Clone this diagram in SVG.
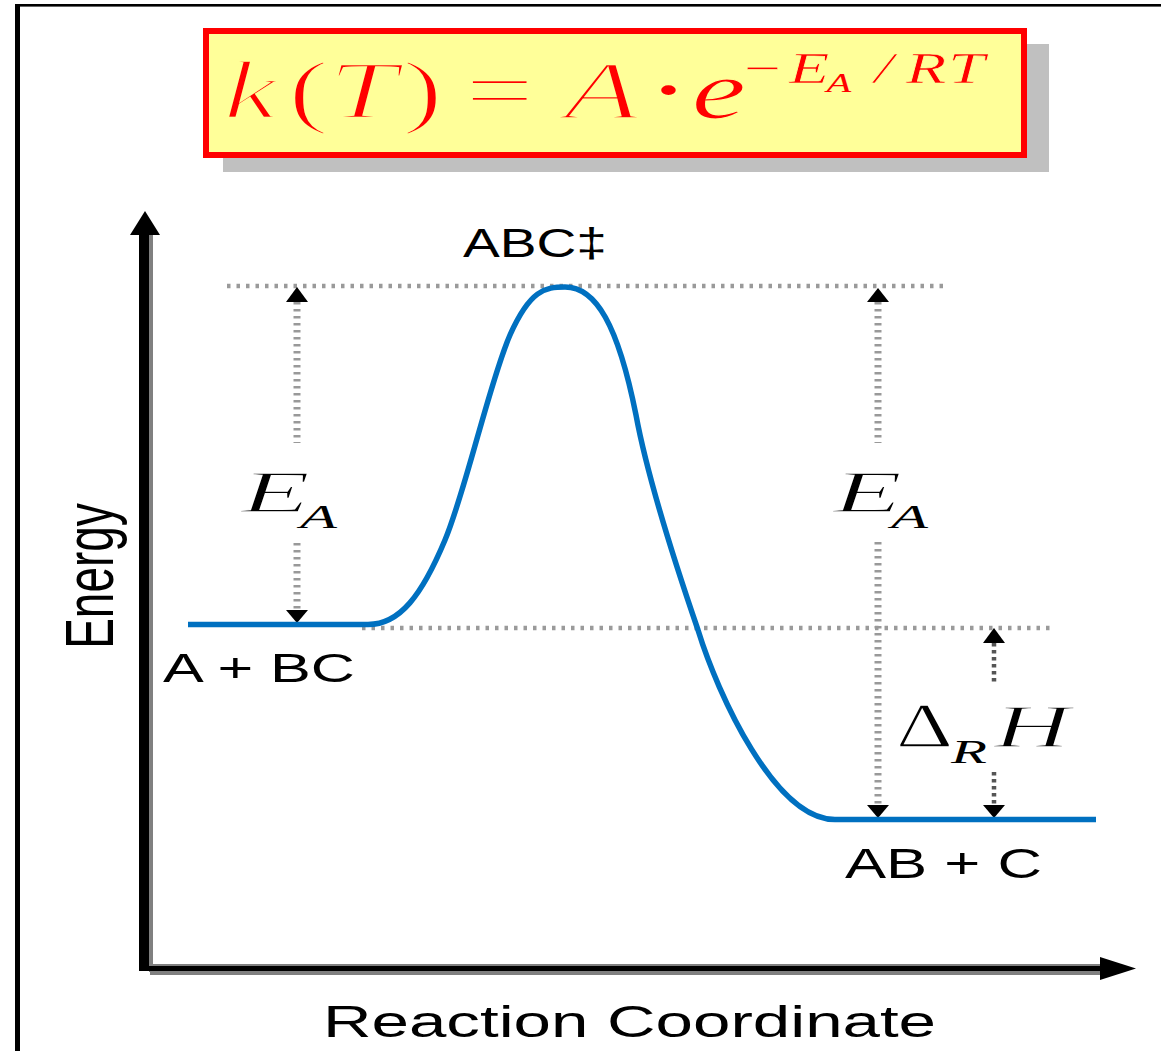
<svg xmlns="http://www.w3.org/2000/svg" width="1161" height="1051" viewBox="0 0 1161 1051">
  <style>
    .sans { font-family: "Liberation Sans", Arial, sans-serif; fill: #000; }
    .math { font-family: "Liberation Serif", "Times New Roman", serif; fill: #000; }
    .it { font-style: italic; }
    .thin { stroke: #fff; stroke-width: 1.3; }
    .red { fill: #ff0000; }
    .big { stroke: #ffff99; stroke-width: 2.4; }
    .mid { stroke: #ffff99; stroke-width: 1.2; }
    .small { stroke: #ffff99; stroke-width: 0.6; }
    .guide { stroke: #9a9a9a; stroke-width: 4.5; stroke-dasharray: 3.5 6; fill: none; }
    .vdot { stroke: #999; stroke-width: 7; stroke-dasharray: 2.5 4.5; fill: none; }
    .hdot { stroke: #555; stroke-width: 4.5; stroke-dasharray: 3.5 3.5; fill: none; }
    .head { fill: #000; }
    .curve { stroke: #0070c0; stroke-width: 5.5; fill: none; stroke-linejoin: round; }
  </style>

  <rect width="1161" height="1051" fill="#fff"/>

  <!-- outer frame -->
  <g id="frame">
    <rect x="15" y="4" width="1146" height="2.6" fill="#000"/>
    <rect x="15" y="4" width="5" height="1047" fill="#000"/>
  </g>

  <!-- formula box -->
  <g id="formula">
    <rect x="223" y="44" width="826" height="128" fill="#c0c0c0"/>
    <rect x="206" y="31" width="818" height="124" fill="#ffff99" stroke="#ff0000" stroke-width="6"/>
    <g transform="scale(1.5,1)" class="math red">
      <text x="149" y="118" font-size="82" class="it big">k</text>
      <text x="192" y="118" font-size="82" class="big">(</text>
      <text x="219" y="118" font-size="82" class="it big">T</text>
      <text x="268" y="118" font-size="82" class="big">)</text>
      <text x="310" y="118" font-size="82" class="big">=</text>
      <text x="376" y="118" font-size="82" class="it big">A</text>
      <text x="432" y="118" font-size="82">·</text>
      <text x="461" y="118" font-size="82" class="it mid">e</text>
      <text x="496" y="83" font-size="44" class="small">−</text>
      <text x="526" y="83" font-size="44" class="it small">E</text>
      <text x="551" y="92" font-size="27" class="it">A</text>
      <text x="583" y="83" font-size="44" class="it small">/</text>
      <text x="604" y="83" font-size="44" class="it small">R</text>
      <text x="632" y="83" font-size="44" class="it small">T</text>
    </g>
  </g>

  <!-- axes -->
  <g id="axes">
    <rect x="149" y="232" width="4" height="740" fill="#808080"/>
    <rect x="150" y="964" width="955" height="11" fill="#808080"/>
    <rect x="139" y="230" width="10" height="741" fill="#000"/>
    <rect x="139" y="966" width="966" height="5" fill="#000"/>
    <polygon points="145,211 160,235 130,235" fill="#000"/>
    <polygon points="1136,968.5 1100,957 1100,980" fill="#000"/>
  </g>

  <!-- guide lines and dimension arrows -->
  <g id="connectors">
    <line class="guide" x1="227" y1="286" x2="943" y2="286"/>
    <line class="guide" x1="362" y1="628" x2="1050" y2="628"/>

    <!-- left E_A -->
    <line class="vdot" x1="297" y1="302" x2="297" y2="443"/>
    <line class="vdot" x1="297" y1="543" x2="297" y2="612"/>
    <polygon class="head" points="297,287 308,302 286,302"/>
    <polygon class="head" points="297,623 308,610 286,610"/>

    <!-- right E_A -->
    <line class="vdot" x1="878" y1="302" x2="878" y2="443"/>
    <line class="vdot" x1="878" y1="542" x2="878" y2="806"/>
    <polygon class="head" points="878,288 889,302 867,302"/>
    <polygon class="head" points="878,818 889,805 867,805"/>

    <!-- Delta_R H -->
    <line class="hdot" x1="994" y1="643" x2="994" y2="685"/>
    <line class="hdot" x1="994" y1="772" x2="994" y2="806"/>
    <polygon class="head" points="994,628 1005,643 983,643"/>
    <polygon class="head" points="994,818 1005,805 983,805"/>
  </g>

  <!-- energy profile -->
  <g id="profile">
    <path class="curve" d="M188,624.5 L368,624.5 C400,624.5 422,595 445,540 C466,490 490,380 510,335 C530,290 545,287 565,287 C596,287 618,325 636,415 C648,480 674,560 698,630 C718,695 775,819.5 835,819.5 L1096,819.5"/>
  </g>

  <!-- labels -->
  <g id="label-ts">
    <text class="sans" x="463" y="257" font-size="40" textLength="144" lengthAdjust="spacingAndGlyphs">ABC‡</text>
  </g>
  <g id="label-reactants">
    <text class="sans" x="163" y="682" font-size="40" textLength="192" lengthAdjust="spacingAndGlyphs">A + BC</text>
  </g>
  <g id="label-products">
    <text class="sans" x="845" y="878" font-size="42" textLength="197" lengthAdjust="spacingAndGlyphs">AB + C</text>
  </g>
  <g id="label-ea-left">
    <text class="math it thin" x="241" y="512" font-size="60" textLength="69" lengthAdjust="spacingAndGlyphs">E</text>
    <text class="math it" x="300" y="528" font-size="34" textLength="37" lengthAdjust="spacingAndGlyphs">A</text>
  </g>
  <g id="label-ea-right">
    <text class="math it thin" x="833" y="512" font-size="60" textLength="69" lengthAdjust="spacingAndGlyphs">E</text>
    <text class="math it" x="891" y="528" font-size="34" textLength="37" lengthAdjust="spacingAndGlyphs">A</text>
  </g>
  <g id="label-dh">
    <text class="math thin" x="896" y="747" font-size="64" textLength="57" lengthAdjust="spacingAndGlyphs">Δ</text>
    <text class="math it" x="951" y="763" font-size="34" textLength="36" lengthAdjust="spacingAndGlyphs">R</text>
    <text class="math it thin" x="994" y="747" font-size="62" textLength="76" lengthAdjust="spacingAndGlyphs">H</text>
  </g>
  <g id="label-x">
    <text class="sans" x="323" y="1037" font-size="44" textLength="613" lengthAdjust="spacingAndGlyphs">Reaction Coordinate</text>
  </g>
  <g id="label-y">
    <text class="sans" transform="translate(113,576) rotate(-90) scale(1,1.5)" x="0" y="0" font-size="46" text-anchor="middle">Energy</text>
  </g>
</svg>
